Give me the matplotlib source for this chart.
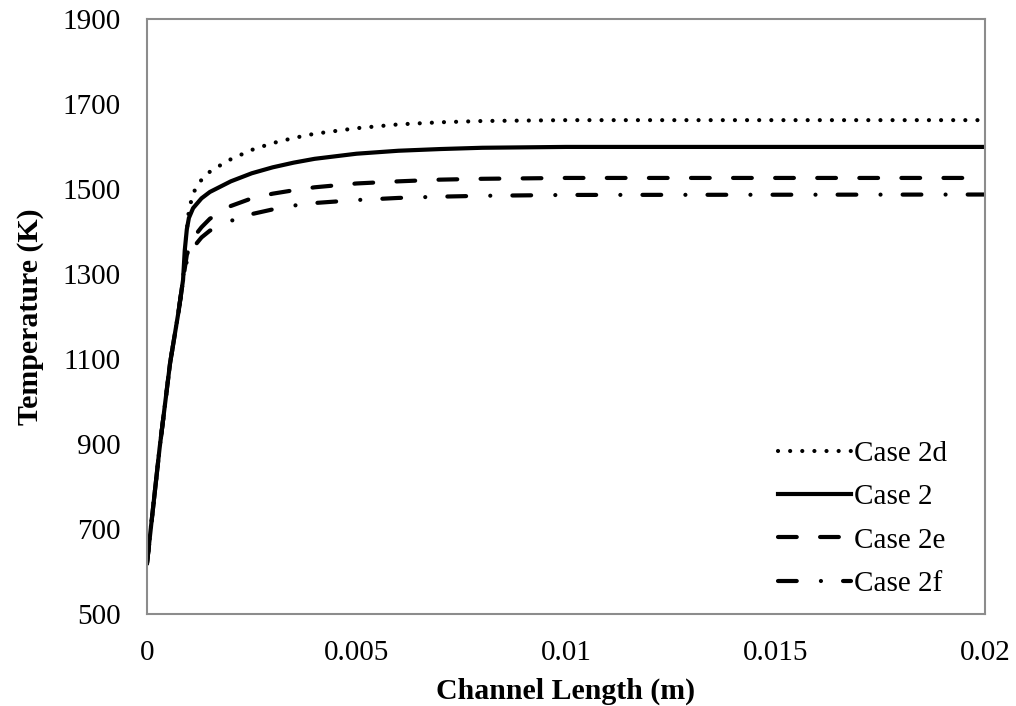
import matplotlib
matplotlib.use("Agg")
import matplotlib.pyplot as plt

# rising part shared by all cases
rise_x = [0.0, 0.0003, 0.00055, 0.00075, 0.00086]
rise_t = [620, 890, 1090, 1210, 1286]

case2d_x = rise_x + [0.00093, 0.001, 0.0011, 0.00126, 0.00146, 0.0017, 0.002, 0.0025, 0.003,
                     0.0035, 0.004, 0.005, 0.006, 0.007, 0.008, 0.01, 0.02]
case2d_t = rise_t + [1385, 1450, 1490, 1517, 1538, 1553, 1570, 1592, 1608,
                     1620, 1630, 1643, 1652, 1657, 1660, 1662, 1662]

case2_x = rise_x + [0.0009, 0.00095, 0.001, 0.0011, 0.0013, 0.0015, 0.002, 0.0025, 0.003,
                    0.0035, 0.004, 0.005, 0.006, 0.007, 0.008, 0.01, 0.02]
case2_t = rise_t + [1355, 1405, 1432, 1455, 1478, 1493, 1518, 1537, 1551,
                    1562, 1571, 1583, 1590, 1594, 1597, 1599, 1599]

case2e_x = rise_x + [0.00095, 0.0011, 0.0013, 0.0015, 0.002, 0.0025, 0.003, 0.0035,
                     0.004, 0.005, 0.006, 0.007, 0.008, 0.01, 0.02]
case2e_t = rise_t + [1345, 1385, 1410, 1430, 1460, 1478, 1489, 1497,
                     1504, 1513, 1518, 1522, 1524, 1526, 1526]

case2f_x = rise_x + [0.00095, 0.0011, 0.0013, 0.0015, 0.002, 0.0025, 0.003, 0.0035,
                     0.004, 0.005, 0.006, 0.007, 0.008, 0.01, 0.02]
case2f_t = rise_t + [1330, 1362, 1386, 1402, 1425, 1441, 1452, 1461,
                     1467, 1474, 1479, 1482, 1484, 1486, 1487]

x_ticks = [0, 0.005, 0.01, 0.015, 0.02]
x_tick_labels = ["0", "0.005", "0.01", "0.015", "0.02"]
y_ticks = [500, 700, 900, 1100, 1300, 1500, 1700, 1900]

plt.rcParams["font.family"] = ["Liberation Serif", "DejaVu Serif"]

fig = plt.figure(figsize=(10.16, 7.06), dpi=100)
ax = fig.add_axes([0.1447, 0.1303, 0.8248, 0.8428])

lw = 3
ax.plot(case2d_x, case2d_t, color="black", lw=lw, linestyle=(0, (0.01, 2.9)),
        dash_capstyle="round", label="Case 2d")
ax.plot(case2_x, case2_t, color="black", lw=lw, linestyle="-", label="Case 2")
ax.plot(case2e_x, case2e_t, color="black", lw=lw, linestyle=(0, (4.5, 5.6)),
        dash_capstyle="round", label="Case 2e")
ax.plot(case2f_x, case2f_t, color="black", lw=lw, linestyle=(0, (4.5, 5.8, 0.01, 5.3)),
        dash_capstyle="round", label="Case 2f")

ax.set_xlim(0, 0.02)
ax.set_ylim(500, 1900)
ax.set_xticks(x_ticks)
ax.set_xticklabels(x_tick_labels)
ax.set_yticks(y_ticks)
ax.tick_params(length=0, labelsize=21, pad=19)

for s in ax.spines.values():
    s.set_color("#8c8c8c")
    s.set_linewidth(1.5)

ax.set_xlabel("Channel Length (m)", fontsize=21.5, fontweight="bold", labelpad=8)
ax.set_ylabel("Temperature (K)", fontsize=21.5, fontweight="bold", labelpad=13)

ax.legend(loc="lower right", bbox_to_anchor=(0.969, 0.009), borderaxespad=0,
          frameon=False, fontsize=21, handlelength=2.5, handletextpad=0.12,
          labelspacing=0.58)

fig.savefig("out.png", dpi=100)
